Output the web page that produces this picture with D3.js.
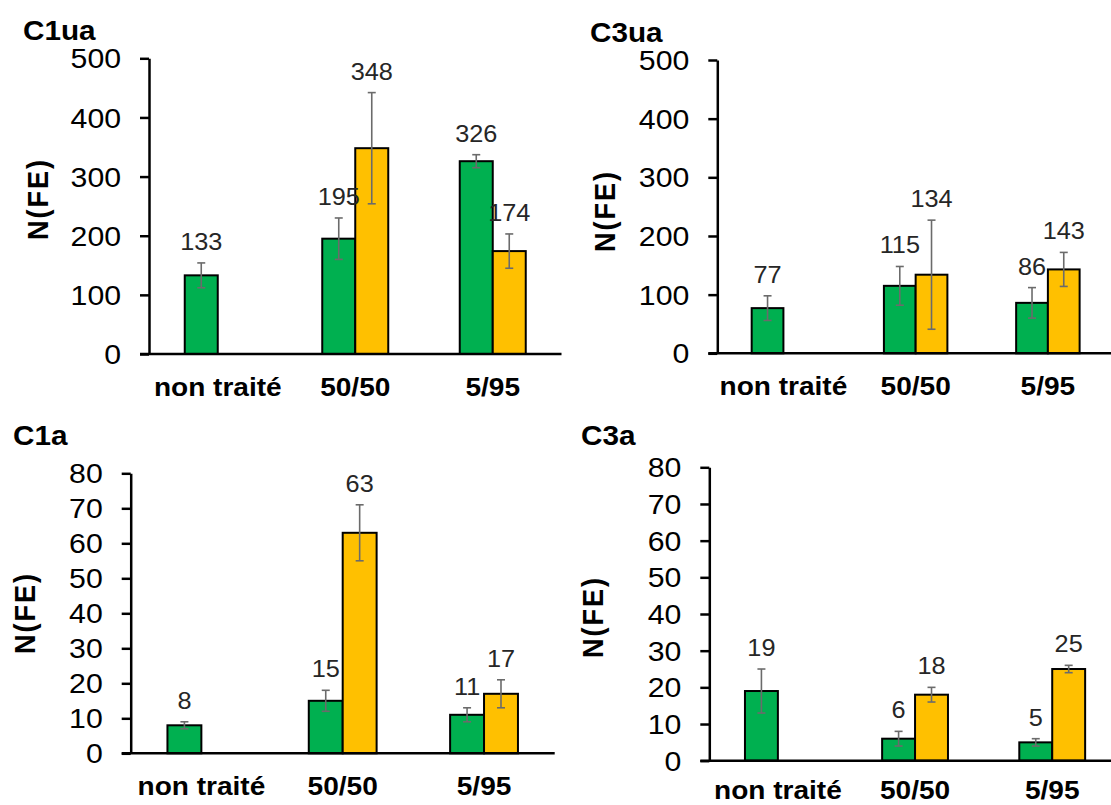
<!DOCTYPE html>
<html>
<head>
<meta charset="utf-8">
<script src="https://cdn.jsdelivr.net/npm/d3@7/dist/d3.min.js"></script>
<style>
  html, body { margin: 0; padding: 0; background: #fff; }
  svg { display: block; }
  text { font-family: "Liberation Sans", Arial, sans-serif; }
</style>
</head>
<body>
<svg id="chart" width="1111" height="805"></svg>
<script>
// ---------------- DATA ----------------
const categories = ["non traité", "50/50", "5/95"];
const seriesNames = ["vert", "jaune"];

const c1uaGreen = [133, 195, 326];
const c1uaYellow = [null, 348, 174];
const c1uaGreenErr = [21, 35, 11];
const c1uaYellowErr = [null, 94, 29];

const c3uaGreen = [77, 115, 86];
const c3uaYellow = [null, 134, 143];
const c3uaGreenErr = [21, 33, 26];
const c3uaYellowErr = [null, 93, 29];

const c1aGreen = [8, 15, 11];
const c1aYellow = [null, 63, 17];
const c1aGreenErr = [1, 3, 2];
const c1aYellowErr = [null, 8, 4];

const c3aGreen = [19, 6, 5];
const c3aYellow = [null, 18, 25];
const c3aGreenErr = [6, 2, 1];
const c3aYellowErr = [null, 2, 1];

const ticksUa = [0, 100, 200, 300, 400, 500];
const ticksA = [0, 10, 20, 30, 40, 50, 60, 70, 80];

const panelTitles = ["C1ua", "C3ua", "C1a", "C3a"];
const yAxisTitle = "N(FE)";

// ---------------- LAYOUT / STYLE ----------------
const colors = { vert: "#00B050", jaune: "#FFC000" };
const SX = 1.1; // horizontal text stretch of the reference
const FONT = '"Liberation Sans", Arial, sans-serif';

const panels = [
  { title: panelTitles[0], green: c1uaGreen, yellow: c1uaYellow, gErr: c1uaGreenErr, yErr: c1uaYellowErr,
    ticks: ticksUa, max: 500, x0: 149, x1: 561.5, yBot: 354, yTop: 58.3, catY: 42,
    titleX: 23, titleY: 40, yTitleX: 48, yTitleY: 199 },
  { title: panelTitles[1], green: c3uaGreen, yellow: c3uaYellow, gErr: c3uaGreenErr, yErr: c3uaYellowErr,
    ticks: ticksUa, max: 500, x0: 717.3, x1: 1114, yBot: 353.3, yTop: 60, catY: 42,
    titleX: 590, titleY: 41.5, yTitleX: 615, yTitleY: 211 },
  { title: panelTitles[2], green: c1aGreen, yellow: c1aYellow, gErr: c1aGreenErr, yErr: c1aYellowErr,
    ticks: ticksA, max: 80, x0: 130.7, x1: 554.7, yBot: 753.3, yTop: 473.3, catY: 42,
    titleX: 13, titleY: 445, yTitleX: 35, yTitleY: 613 },
  { title: panelTitles[3], green: c3aGreen, yellow: c3aYellow, gErr: c3aGreenErr, yErr: c3aYellowErr,
    ticks: ticksA, max: 80, x0: 709.3, x1: 1120.8, yBot: 760.7, yTop: 467.3, catY: 38.8,
    titleX: 581, titleY: 445, yTitleX: 603, yTitleY: 617 }
];

const svg = d3.select("#chart");

function stretchedText(g, x, y, str, opts) {
  return g.append("text")
    .attr("transform", `translate(${x},${y}) scale(${SX},1)` + (opts.rotate ? " rotate(-90)" : ""))
    .attr("text-anchor", opts.anchor || "start")
    .attr("font-family", FONT)
    .attr("font-size", opts.size)
    .attr("font-weight", opts.bold ? "bold" : "normal")
    .attr("letter-spacing", opts.spacing || 0)
    .attr("fill", opts.fill || "#000")
    .text(str);
}

panels.forEach(p => {
  const g = svg.append("g");
  const y = d3.scaleLinear().domain([0, p.max]).range([p.yBot, p.yTop]);
  const x = d3.scaleBand().domain(categories).range([p.x0, p.x1]).paddingInner(0).paddingOuter(0);
  const B = x.bandwidth();
  const w = 0.24 * B;
  const xs = d3.scaleBand().domain(seriesNames).range([B / 2 - w, B / 2 + w]);

  const rows = [];
  categories.forEach((c, i) => {
    rows.push({ cat: c, s: "vert", v: p.green[i], e: p.gErr[i] });
    rows.push({ cat: c, s: "jaune", v: p.yellow[i], e: p.yErr[i] });
  });
  const valid = rows.filter(r => r.v !== null);

  // bars
  g.selectAll("rect.bar").data(valid).enter().append("rect")
    .attr("class", "bar")
    .attr("x", d => x(d.cat) + xs(d.s))
    .attr("y", d => y(d.v))
    .attr("width", xs.bandwidth())
    .attr("height", d => y(0) - y(d.v))
    .attr("fill", d => colors[d.s])
    .attr("stroke", "#000")
    .attr("stroke-width", 2);

  // error bars + labels
  const cap = 4;
  valid.forEach(d => {
    const cx = x(d.cat) + xs(d.s) + xs.bandwidth() / 2;
    const eg = g.append("g").attr("stroke", "#6b6b6b").attr("stroke-width", 1.6);
    eg.append("line").attr("x1", cx).attr("x2", cx).attr("y1", y(d.v + d.e)).attr("y2", y(d.v - d.e));
    eg.append("line").attr("x1", cx - cap).attr("x2", cx + cap).attr("y1", y(d.v + d.e)).attr("y2", y(d.v + d.e));
    eg.append("line").attr("x1", cx - cap).attr("x2", cx + cap).attr("y1", y(d.v - d.e)).attr("y2", y(d.v - d.e));
    stretchedText(g, cx, y(d.v + d.e) - 13, String(d.v), { size: 23, anchor: "middle", fill: "#262626" });
  });

  // y axis
  const yAxis = d3.axisLeft(y).tickValues(p.ticks).tickSizeInner(9).tickSizeOuter(0).tickPadding(19)
    .tickFormat(d3.format("d"));
  const ya = g.append("g").attr("transform", `translate(${p.x0},0)`).call(yAxis);
  ya.select(".domain").attr("stroke", "#000").attr("stroke-width", 2.5);
  ya.selectAll(".tick line").attr("stroke", "#000").attr("stroke-width", 2.5);
  ya.selectAll(".tick text")
    .attr("x", -28 / SX)
    .attr("dy", "0.35em")
    .attr("transform", `scale(${SX},1)`)
    .attr("font-family", FONT)
    .attr("font-size", 27.5)
    .attr("fill", "#000");

  // x axis
  const xAxis = d3.axisBottom(x).tickSize(0).tickPadding(0);
  const xa = g.append("g").attr("transform", `translate(0,${p.yBot})`).call(xAxis);
  xa.select(".domain").remove();
  xa.append("line").attr("x1", p.x0 - 9).attr("x2", p.x1).attr("y1", 0).attr("y2", 0)
    .attr("stroke", "#000").attr("stroke-width", 2.5);
  xa.selectAll(".tick text")
    .attr("y", p.catY)
    .attr("dy", 0)
    .attr("transform", `scale(${SX},1)`)
    .attr("font-family", FONT)
    .attr("font-size", 25.5)
    .attr("font-weight", "bold")
    .attr("fill", "#000");

  // titles
  stretchedText(g, p.titleX, p.titleY, p.title, { size: 27, bold: true });
  stretchedText(g, p.yTitleX, p.yTitleY, yAxisTitle, { size: 27, bold: true, anchor: "middle", rotate: true, spacing: 2 });
});
</script>
</body>
</html>
